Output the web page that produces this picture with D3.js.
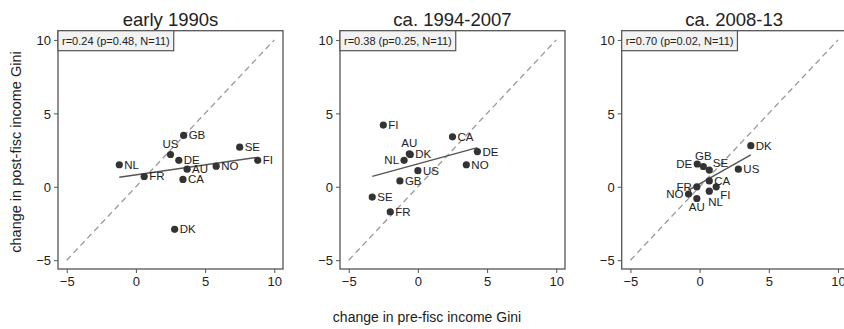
<!DOCTYPE html>
<html>
<head>
<meta charset="utf-8">
<script src="https://cdn.jsdelivr.net/npm/d3@7"></script>
<style>
  html, body { margin: 0; padding: 0; background: #fff; }
  svg { display: block; font-family: "Liberation Sans", Arial, sans-serif; }
</style>
</head>
<body>
<svg id="chart" width="844" height="329"></svg>
<script>
// Period titles and correlation summaries
const periods = ["early 1990s", "ca. 1994-2007", "ca. 2008-13"];
const statTexts = ["r=0.24 (p=0.48, N=11)", "r=0.38 (p=0.25, N=11)", "r=0.70 (p=0.02, N=11)"];
const tickValues = [-5, 0, 5, 10];

// early 1990s
const countries1 = ["GB", "US", "SE", "NL", "DE", "FI", "NO", "AU", "FR", "CA", "DK"];
const preFisc1   = [3.45, 2.5, 7.5, -1.2, 3.1, 8.8, 5.8, 3.7, 0.6, 3.4, 2.8];
const postFisc1  = [3.5, 2.2, 2.7, 1.5, 1.8, 1.8, 1.4, 1.2, 0.7, 0.5, -2.9];

// ca. 1994-2007
const countries2 = ["FI", "CA", "DE", "AU", "DK", "NL", "NO", "US", "GB", "SE", "FR"];
const preFisc2   = [-2.5, 2.5, 4.3, -0.62, -0.55, -1.0, 3.5, 0.0, -1.3, -3.3, -2.0];
const postFisc2  = [4.2, 3.4, 2.4, 2.25, 2.2, 1.8, 1.5, 1.1, 0.4, -0.7, -1.7];

// ca. 2008-13
const countries3 = ["DK", "US", "DE", "GB", "SE", "CA", "FI", "NL", "FR", "NO", "AU"];
const preFisc3   = [3.7, 2.8, -0.17, 0.27, 0.7, 0.7, 1.2, 0.7, -0.2, -0.8, -0.2];
const postFisc3  = [2.8, 1.2, 1.55, 1.38, 1.14, 0.4, 0.0, -0.3, 0.0, -0.5, -0.8];

// Clock position of each marker label (3 = right, 9 = left, 12 = above, 6 = below)
const labelClock = [
  { US: 12 },
  { AU: 12, NL: 9 },
  { DE: 9, GB: 12, SE: 1, FI: 4, NL: 5, FR: 9, NO: 9, AU: 6 }
];

const panels = [
  { countries: countries1, x: preFisc1, y: postFisc1 },
  { countries: countries2, x: preFisc2, y: postFisc2 },
  { countries: countries3, x: preFisc3, y: postFisc3 }
];

const svg = d3.select("#chart");
svg.append("rect").attr("width", 844).attr("height", 329).attr("fill", "#fff");

const panelLefts = [58, 340, 621.7];
const plotW = 225, plotTop = 30.7, plotBottom = 269;
const domain = [-5.63, 10.63];
const ink = "#222";
const frame = "#555";

function labelOffset(pos) {
  switch (pos) {
    case 12: return { dx: 0, dy: -6.5, anchor: "middle" };
    case 6: return { dx: 0, dy: 12.5, anchor: "middle" };
    case 9: return { dx: -5, dy: 4, anchor: "end" };
    case 1: return { dx: 3.5, dy: -3.5, anchor: "start" };
    case 4: return { dx: 4, dy: 12, anchor: "start" };
    case 5: return { dx: -1, dy: 15, anchor: "start" };
    default: return { dx: 5, dy: 4, anchor: "start" };
  }
}

panels.forEach((p, i) => {
  const left = panelLefts[i];
  const x = d3.scaleLinear().domain(domain).range([left, left + plotW]);
  const y = d3.scaleLinear().domain([-5.6, 10.63]).range([plotBottom, plotTop]);
  const g = svg.append("g");

  // plot region outline
  g.append("rect")
    .attr("x", left).attr("y", plotTop)
    .attr("width", plotW).attr("height", plotBottom - plotTop)
    .attr("fill", "none").attr("stroke", frame).attr("stroke-width", 1.3);

  // axes
  const yAxis = g.append("g").attr("transform", `translate(${left},0)`)
    .call(d3.axisLeft(y).tickValues(tickValues).tickSize(4).tickPadding(3).tickFormat(d3.format("d")));
  const xAxis = g.append("g").attr("transform", `translate(0,${plotBottom})`)
    .call(d3.axisBottom(x).tickValues(tickValues).tickSize(4).tickPadding(4).tickFormat(d3.format("d")));
  [yAxis, xAxis].forEach(a => {
    a.select(".domain").remove();
    a.selectAll(".tick line").attr("stroke", frame).attr("stroke-width", 1);
    a.selectAll(".tick text").attr("fill", ink).attr("font-size", 13)
      .attr("font-family", "Liberation Sans, Arial, sans-serif");
  });
  yAxis.selectAll(".tick text").attr("dy", "0.36em");

  // 45-degree reference line
  g.append("line")
    .attr("x1", x(-5)).attr("y1", y(-5)).attr("x2", x(10)).attr("y2", y(10))
    .attr("stroke", "#999").attr("stroke-width", 1.3).attr("stroke-dasharray", "6,4");

  // least-squares fit over the observed range
  const pts = p.x.map((v, k) => [v, p.y[k]]);
  const mx = d3.mean(p.x), my = d3.mean(p.y);
  const sxy = d3.sum(pts, d => (d[0] - mx) * (d[1] - my));
  const sxx = d3.sum(pts, d => (d[0] - mx) ** 2);
  const slope = sxy / sxx, icpt = my - slope * mx;
  const [xmin, xmax] = d3.extent(p.x);
  g.append("line")
    .attr("x1", x(xmin)).attr("y1", y(icpt + slope * xmin))
    .attr("x2", x(xmax)).attr("y2", y(icpt + slope * xmax))
    .attr("stroke", "#555").attr("stroke-width", 1.4);

  // markers
  g.selectAll("circle.pt").data(pts).join("circle")
    .attr("class", "pt")
    .attr("cx", d => x(d[0])).attr("cy", d => y(d[1]))
    .attr("r", 3.6).attr("fill", "#333");

  // marker labels
  g.selectAll("text.lab").data(p.countries).join("text")
    .attr("class", "lab")
    .each(function (c, k) {
      const o = labelOffset(labelClock[i][c] || 3);
      d3.select(this)
        .attr("x", x(p.x[k]) + o.dx).attr("y", y(p.y[k]) + o.dy)
        .attr("text-anchor", o.anchor);
    })
    .attr("font-size", 11.5).attr("fill", ink)
    .text(c => c);

  // correlation box
  const box = g.append("g");
  const t = box.append("text")
    .attr("x", left + 4).attr("y", plotTop + 14)
    .attr("font-size", 11).attr("fill", ink)
    .text(statTexts[i]);
  const bb = t.node().getBBox();
  box.insert("rect", "text")
    .attr("x", left).attr("y", plotTop)
    .attr("width", bb.width + 8).attr("height", 20)
    .attr("fill", "#f2f2f2").attr("stroke", frame).attr("stroke-width", 1.2);

  // panel title
  g.append("text")
    .attr("x", left + plotW / 2).attr("y", 25.5)
    .attr("text-anchor", "middle").attr("font-size", 18.5).attr("fill", ink)
    .text(periods[i]);
});

// shared axis titles
svg.append("text")
  .attr("x", 427).attr("y", 322)
  .attr("text-anchor", "middle").attr("font-size", 14).attr("fill", ink)
  .text("change in pre-fisc income Gini");

svg.append("text")
  .attr("transform", "translate(21,152) rotate(-90)")
  .attr("text-anchor", "middle").attr("font-size", 14.5).attr("fill", ink)
  .text("change in post-fisc income Gini");
</script>
</body>
</html>
